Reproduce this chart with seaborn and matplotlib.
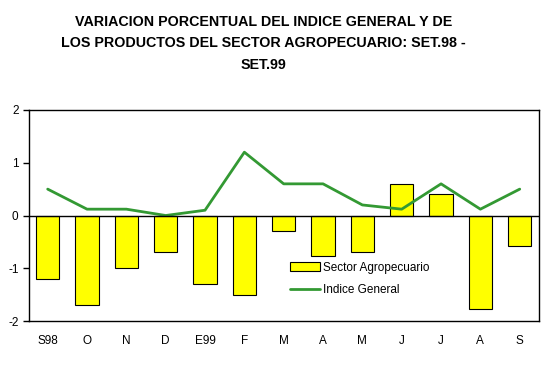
import numpy as np
import pandas as pd
import matplotlib
matplotlib.use("Agg")
import matplotlib.pyplot as plt
import seaborn as sns
from matplotlib.patches import Patch
from matplotlib.lines import Line2D

months = ["S98", "O", "N", "D", "E99", "F", "M", "A", "M", "J", "J", "A", "S"]
sector_agro = [-1.2, -1.7, -1.0, -0.7, -1.3, -1.5, -0.3, -0.77, -0.7, 0.6, 0.4, -1.78, -0.58]
indice_general = [0.5, 0.12, 0.12, 0.0, 0.1, 1.2, 0.6, 0.6, 0.2, 0.12, 0.6, 0.12, 0.5]

df = pd.DataFrame({
    "pos": np.arange(len(months)),
    "agro": sector_agro,
    "general": indice_general,
})

sns.set_style("white", {"text.color": "black", "axes.labelcolor": "black",
                        "xtick.color": "black", "ytick.color": "black"})
plt.rcParams["font.family"] = ["Liberation Sans", "DejaVu Sans"]
plt.rcParams["axes.unicode_minus"] = False

fig = plt.figure(figsize=(5.44, 3.83), dpi=100)
ax = fig.add_axes([29 / 544, 1 - 321 / 383, 510 / 544, 211 / 383])

sns.barplot(data=df, x="pos", y="agro", color="#ffff00", edgecolor="black",
            linewidth=0.8, width=0.59, saturation=1, ax=ax)
sns.lineplot(data=df, x="pos", y="general", color="#339933", linewidth=2, ax=ax)
ax.axhline(0, color="black", linewidth=1)

ax.set_ylim(-2, 2)
ax.set_xlim(-0.475, 12.49)
ax.set_yticks([-2, -1, 0, 1, 2])
ax.set_xticks(df["pos"])
ax.set_xticklabels(months)
ax.tick_params(axis="y", length=4, width=1, direction="out", left=True,
               labelsize=8.5, colors="black")
ax.tick_params(axis="x", length=0, pad=10, labelsize=8.5, colors="black")
ax.set_xlabel("")
ax.set_ylabel("")
for s in ax.spines.values():
    s.set_color("black")
    s.set_linewidth(1)

handles = [
    Patch(facecolor="#ffff00", edgecolor="black", linewidth=0.8),
    Line2D([0], [0], color="#339933", linewidth=2),
]
leg = ax.legend(handles, ["Sector Agropecuario", "Indice General"], loc="lower left",
                bbox_to_anchor=(0.49, 0.067), frameon=False, fontsize=8.5,
                handlelength=2.6, handleheight=0.7, labelspacing=0.9, handletextpad=0.2)
for t in leg.get_texts():
    t.set_color("black")

fig.suptitle("VARIACION PORCENTUAL DEL INDICE GENERAL Y DE\n"
             "LOS PRODUCTOS DEL SECTOR AGROPECUARIO: SET.98 -\nSET.99",
             x=0.484, y=0.962, fontsize=10.3, fontweight="bold", linespacing=1.68,
             color="black")

fig.savefig("out.png", dpi=100)
